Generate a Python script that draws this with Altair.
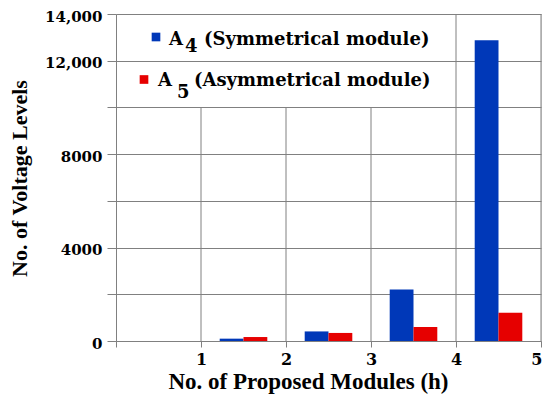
import altair as alt
import pandas as pd

# ---- data ----
modules = [1, 2, 3, 4]
sym_levels = [100, 410, 2200, 12880]      # A4 (Symmetrical module)
asym_levels = [170, 345, 600, 1210]       # A5 (Asymmetrical module)
series_keys = ["sym", "asym"]
series_colors = ["#0038B8", "#E60000"]

x_ticks = [0, 1, 2, 3, 4, 5]
y_ticks = [0, 2000, 4000, 6000, 8000, 10000, 12000, 14000]
y_tick_labels = ["0", "", "4000", "", "8000", "", "12,000", "14,000"]

grid_x = [1, 2, 3, 4, 5]
grid_top = [10000, 10000, 10000, 14000, 14000]

rows = []
for h, s, a in zip(modules, sym_levels, asym_levels):
    rows.append({"h": h, "series": "sym", "value": s})
    rows.append({"h": h, "series": "asym", "value": a})
bars_df = pd.DataFrame(rows)
grid_df = pd.DataFrame({"x0": grid_x, "value": grid_top})

label_expr = " : ".join(
    f"datum.value == {v} ? '{t}'" for v, t in zip(y_ticks, y_tick_labels)
) + " : ''"

GRAY = "#808080"
X_TITLE = "No. of Proposed Modules (h)"
Y_TITLE = "No. of Voltage Levels"

x_axis = alt.Axis(
    values=x_ticks,
    labelExpr="datum.value == 0 ? '' : datum.label",
    grid=False,
    domainColor=GRAY,
    tickColor=GRAY,
    tickSize=6,
    labelFont="DejaVu Serif",
    labelFontWeight="bold",
    labelFontSize=16,
    labelColor="black",
    labelPadding=4,
    labelFlush=True,
    labelFlushOffset=1,
    labelOverlap=False,
    title=X_TITLE,
    titleFont="Liberation Serif",
    titleFontSize=23,
    titleFontWeight="bold",
    titleColor="black",
    titleX=192,
    titleY=47,
    titleAlign="center",
    titleBaseline="alphabetic",
)

y_axis = alt.Axis(
    values=y_ticks,
    labelExpr=label_expr,
    grid=True,
    gridColor=GRAY,
    gridWidth=1,
    domainColor=GRAY,
    tickColor=GRAY,
    tickSize=9,
    labelPadding=5,
    labelFont="DejaVu Serif",
    labelFontWeight="bold",
    labelFontSize=15,
    labelColor="black",
    labelOffset=2,
    labelOverlap=False,
    title=Y_TITLE,
    titleFont="Liberation Serif",
    titleFontSize=22,
    titleFontWeight="bold",
    titleColor="black",
    titleAngle=270,
    titleX=-97,
    titleY=164,
    titleAlign="center",
    titleBaseline="middle",
)

x_scale = alt.Scale(domain=[0, 5], nice=False, zero=False)
y_scale = alt.Scale(domain=[0, 14000], nice=False)

bars = alt.Chart(bars_df).transform_calculate(
    x0="datum.series == 'sym' ? datum.h + 0.22 : datum.h + 0.5",
    x1="datum.series == 'sym' ? datum.h + 0.5 : datum.h + 0.78",
).mark_bar().encode(
    x=alt.X("x0:Q", scale=x_scale, axis=x_axis),
    x2="x1:Q",
    y=alt.Y("value:Q", scale=y_scale, axis=y_axis),
    y2=alt.Y2(datum=0),
    color=alt.Color(
        "series:N",
        scale=alt.Scale(domain=series_keys, range=series_colors),
        legend=None,
    ),
)

vgrid = alt.Chart(grid_df).mark_rule(color=GRAY, strokeWidth=1).encode(
    x=alt.X("x0:Q", scale=x_scale, axis=x_axis),
    y=alt.Y("value:Q", scale=y_scale, axis=y_axis),
    y2=alt.Y2(datum=0),
)


def txt(label, x, y, size=18):
    return alt.Chart(pd.DataFrame({"label": [label]})).mark_text(
        font="DejaVu Serif",
        fontWeight="bold",
        fontSize=size,
        color="black",
        align="left",
        baseline="alphabetic",
    ).encode(text="label:N", x=alt.value(x), y=alt.value(y))


def sq(color, x, y):
    return alt.Chart(pd.DataFrame({"k": [0]})).mark_square(
        size=75, color=color, opacity=1
    ).encode(x=alt.value(x), y=alt.value(y))


legend_layers = [
    sq(series_colors[0], 40, 23),
    txt("A", 53, 30.5),
    txt("4", 69, 37.5),
    txt("(Symmetrical module)", 88, 30.5),
    sq(series_colors[1], 28, 65.5),
    txt("A", 42, 72),
    txt("5", 61, 83.5),
    txt("(Asymmetrical module)", 78, 72),
]

chart = alt.layer(bars, vgrid, *legend_layers).properties(
    width=425,
    height=327,
    autosize=alt.AutoSizeParams(type="none"),
    padding={"left": 108, "top": 6, "right": 1, "bottom": 53},
).configure_view(stroke=None).configure(background="white")

chart.save("out.html", embed_options={"renderer": "svg", "actions": False})
